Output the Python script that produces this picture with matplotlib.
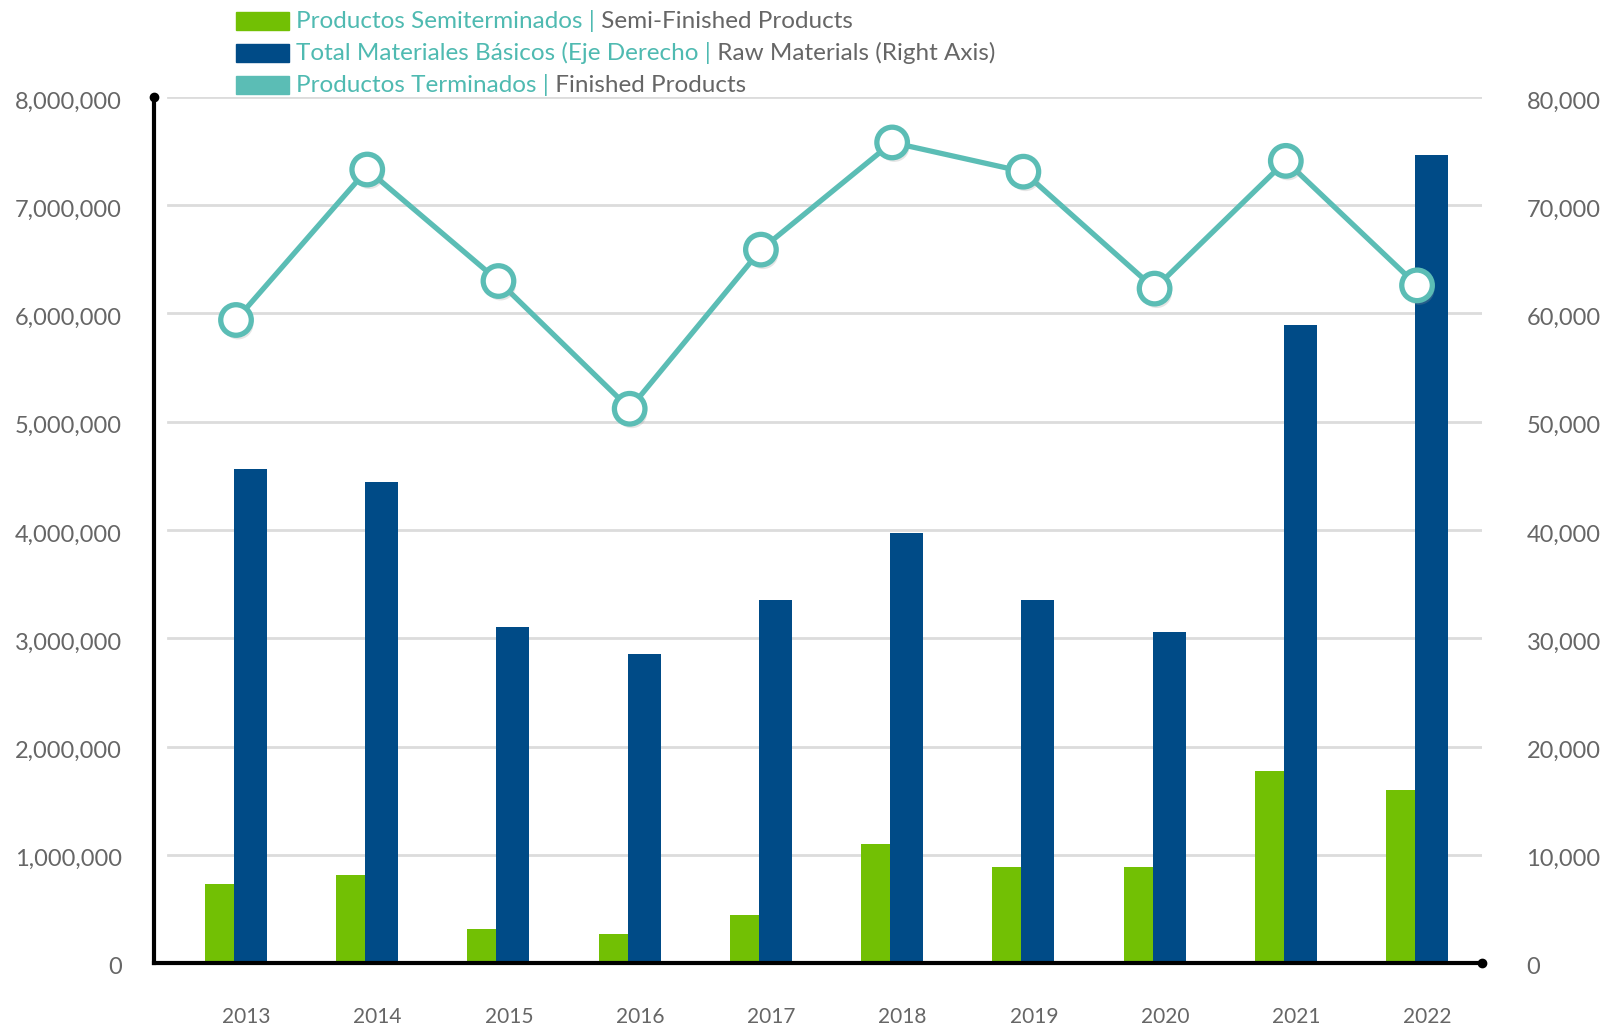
import matplotlib
matplotlib.use("Agg")
import matplotlib.pyplot as plt
import matplotlib.patheffects as pe
import matplotlib.transforms as mtransforms
from matplotlib.patches import Rectangle
import numpy as np

# data
years = ["2013", "2014", "2015", "2016", "2017", "2018", "2019", "2020", "2021", "2022"]
semi_finished = [730000, 810000, 310000, 270000, 440000, 1100000, 890000, 890000, 1770000, 1600000]
raw_materials = [45600, 44400, 31000, 28500, 33500, 39700, 33500, 30600, 58900, 74600]
finished = [5940000, 7330000, 6300000, 5120000, 6590000, 7580000, 7310000, 6230000, 7410000, 6260000]

legend_es = ["Productos Semiterminados |", "Total Materiales Básicos (Eje Derecho |", "Productos Terminados |"]
legend_en = ["Semi-Finished Products", "Raw Materials (Right Axis)", "Finished Products"]

green = "#72c004"
blue = "#004b87"
teal = "#5bbdb5"
teal_txt = "#4fbab1"
gray = "#666666"
grid_c = "#dcdcdc"

plt.rcParams["font.family"] = ["Lato", "DejaVu Sans"]

fig = plt.figure(figsize=(16.12, 10.27), dpi=100)
ax = fig.add_axes([154 / 1612, 1 - 963 / 1027, 1328 / 1612, 866 / 1027])
ax2 = ax.twinx()
ax.set_zorder(ax2.get_zorder() + 1)
ax.patch.set_visible(False)

x = np.arange(len(years))

# gridlines behind all bars (on the right axis, same spacing)
for v in range(10000, 80001, 10000):
    ax2.axhline(v, xmin=0.0105, xmax=1, color=grid_c, lw=2, zorder=0)

ax2.bar(x - 0.015, raw_materials, width=0.251, align="edge", color=blue, zorder=2)
ax.bar(x - 0.236, semi_finished, width=0.221, align="edge", color=green, zorder=2)

ax.plot(x, finished, color=teal, lw=3.8, zorder=3, solid_capstyle="round")
ax.plot(x, finished, linestyle="none", marker="o", markersize=22,
        markerfacecolor="white", markeredgecolor=teal, markeredgewidth=3.8, zorder=4,
        path_effects=[pe.SimplePatchShadow(offset=(1.5, -3), shadow_rgbFace="#999999", alpha=0.25),
                      pe.Normal()])

ax.set_xlim(-0.625, 9.495)
ax.set_ylim(0, 8000000)
ax2.set_ylim(0, 80000)

ax.set_yticks(range(0, 8000001, 1000000))
ax.set_yticklabels([f"{v:,}" for v in range(0, 8000001, 1000000)])
ax2.set_yticks(range(0, 80001, 10000))
ax2.set_yticklabels([f"{v:,}" for v in range(0, 80001, 10000)])
ax.set_xticks(x + 0.08)
ax.set_xticklabels(years)

ax.tick_params(axis="y", length=0, pad=23, labelsize=17, labelcolor=gray)
ax.tick_params(axis="x", length=0, pad=32, labelsize=15, labelcolor=gray)
ax2.tick_params(axis="y", length=0, pad=32, labelsize=17, labelcolor=gray)

# value labels sit a touch below their gridlines in the reference
shift = mtransforms.ScaledTranslation(0, -3 / 100, fig.dpi_scale_trans)
for lab in ax.get_yticklabels() + ax2.get_yticklabels():
    lab.set_transform(lab.get_transform() + shift)

for a in (ax, ax2):
    for s in ("top", "right"):
        a.spines[s].set_visible(False)
ax2.spines["left"].set_visible(False)
ax2.spines["bottom"].set_visible(False)
ax.spines["left"].set_linewidth(3)
ax.spines["bottom"].set_linewidth(3)
ax.spines["left"].set_color("black")
ax.spines["bottom"].set_color("black")
ax.spines["left"].set_zorder(5)
ax.spines["bottom"].set_zorder(5)

# dots at the ends of the axis lines
ax.plot([0], [1], "o", color="black", markersize=6, transform=ax.transAxes, clip_on=False, zorder=6)
ax.plot([1], [0], "o", color="black", markersize=6, transform=ax.transAxes, clip_on=False, zorder=6)

# legend drawn by hand: teal spanish text + gray english text
rows_y = [21, 53, 85]
sw_colors = [green, blue, teal]
for i in range(3):
    yc = 1 - rows_y[i] / 1027
    fig.patches.append(Rectangle((236 / 1612, yc - 8.5 / 1027), 53 / 1612, 17 / 1027,
                                 transform=fig.transFigure, color=sw_colors[i]))
    t1 = fig.text(296 / 1612, yc, legend_es[i], color=teal_txt, fontsize=17.5, va="center", ha="left")
    ax.annotate(" " + legend_en[i], xy=(1, 0.5), xycoords=t1, va="center", ha="left",
                color=gray, fontsize=17.5, annotation_clip=False)

fig.savefig("out.png", dpi=100, facecolor="white")
